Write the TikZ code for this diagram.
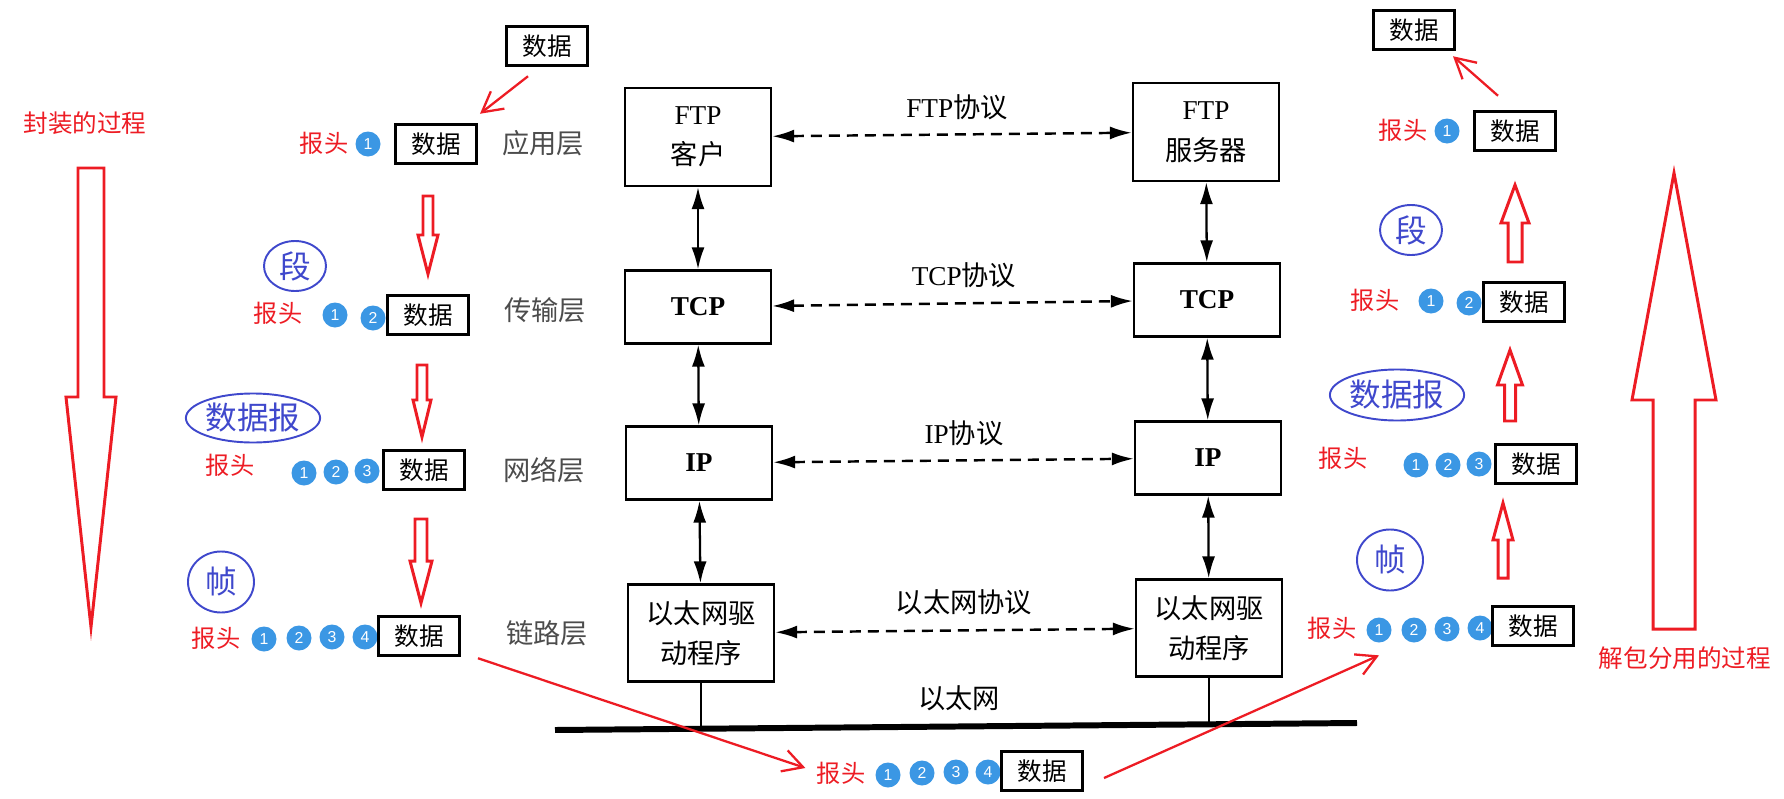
\documentclass[tikz,border=0pt]{standalone}
\usepackage{fontspec}
\setmainfont{Liberation Serif}
\setsansfont{Liberation Sans}
\newfontfamily\cjk{Noto Sans CJK SC}
\usetikzlibrary{arrows.meta,shapes.geometric}
\definecolor{paintred}{RGB}{237,28,36}
\definecolor{markblue}{RGB}{63,72,204}
\definecolor{dotblue}{RGB}{59,151,228}
\tikzset{
  layerbox/.style  = {draw, line width=1.3pt, minimum width=29.2mm, align=center,
                      font=\fontsize{15.5}{18}\selectfont},
  layername/.style = {text=black!70, font=\cjk\fontsize{15.5}{18}\selectfont},
  protolabel/.style= {font=\fontsize{15.5}{18}\selectfont},
  peer/.style      = {{Latex[length=4.4mm,width=2.6mm]}-{Latex[length=4.4mm,width=2.6mm]},
                      line width=1.4pt, dash pattern=on 2.2mm off 1.4mm},
  stack/.style     = {{Latex[length=4.4mm,width=2.6mm]}-{Latex[length=4.4mm,width=2.6mm]},
                      line width=1.3pt},
  bus/.style       = {line width=3.4pt},
  drop/.style      = {line width=0.8pt},
  databox/.style   = {draw, line width=1.7pt, minimum width=16.2mm, minimum height=7.9mm,
                      inner sep=0pt, font=\cjk\fontsize{14}{16}\selectfont},
  redlabel/.style  = {text=paintred, inner sep=0pt, font=\cjk\fontsize{13.8}{16}\selectfont},
  numdot/.style    = {circle, fill=dotblue, text=white, inner sep=0pt, minimum size=5mm,
                      font=\sffamily\fontsize{9}{10}\selectfont},
  unitmark/.style  = {ellipse, draw=markblue, line width=1.1pt, text=markblue, inner sep=0pt,
                      font=\cjk\fontsize{18}{20}\selectfont},
  redarrow/.style  = {-{Straight Barb[length=4mm,width=4.4mm]}, paintred, line width=1.3pt},
  hollow/.style    = {paintred, line width=1.7pt, line join=miter},
}

\begin{document}
\begin{tikzpicture}[x=0.2mm,y=-0.2mm]
  \useasboundingbox (0,0) rectangle (1784,799);

  % client stack
  \node[layerbox, minimum height=19.6mm] (ftpc) at (698,137) {FTP\\[5pt]{\cjk 客户}};
  \node[layerbox, minimum height=14.6mm] (tcpc) at (698,307) {\textbf{TCP}};
  \node[layerbox, minimum height=14.6mm] (ipc)  at (699,463) {\textbf{IP}};
  \node[layerbox, minimum height=19.4mm] (ethc) at (701,633) {{\cjk 以太网驱}\\[5pt]{\cjk 动程序}};

  % server stack
  \node[layerbox, minimum height=19.6mm] (ftps) at (1206,132) {FTP\\[5pt]{\cjk 服务器}};
  \node[layerbox, minimum height=14.6mm] (tcps) at (1207,300) {\textbf{TCP}};
  \node[layerbox, minimum height=14.6mm] (ips)  at (1208,458) {\textbf{IP}};
  \node[layerbox, minimum height=19.4mm] (eths) at (1209,628) {{\cjk 以太网驱}\\[5pt]{\cjk 动程序}};

  \draw[stack] (ftpc) -- (tcpc);
  \draw[stack] (tcpc) -- (ipc);
  \draw[stack] (ipc) -- (ethc);
  \draw[stack] (ftps) -- (tcps);
  \draw[stack] (tcps) -- (ips);
  \draw[stack] (ips) -- (eths);

  % peer protocols
  \draw[peer] (ftpc) -- (ftps);
  \draw[peer] (tcpc) -- (tcps);
  \draw[peer] (ipc) -- (ips);
  \draw[peer] (ethc) -- (eths);
  \node[protolabel] (ftpp) at (957,107) {FTP{\cjk 协议}};
  \node[protolabel] (tcpp) at (964,275) {TCP{\cjk 协议}};
  \node[protolabel] (ipp)  at (964,433) {IP{\cjk 协议}};
  \node[protolabel] (ethp) at (964,602) {\cjk 以太网协议};

  % ethernet cable
  \coordinate (busw) at (555,730);
  \coordinate (buse) at (1357,723);
  \draw[bus] (busw) -- (buse);
  \draw[drop] (ethc.south) -- (ethc.south |- busw);
  \draw[drop] (eths.south) -- (eths.south |- buse);
  \node[protolabel] (ethnet) at (959,698) {\cjk 以太网};

  % layer names
  \node[layername] (appl) at (543,143) {应用层};
  \node[layername] (tral) at (545,310) {传输层};
  \node[layername] (netl) at (544,470) {网络层};
  \node[layername] (lnkl) at (547,633) {链路层};

  % encapsulation (left)
  \node[databox] (ld0) at (547,46) {数据};
  \node[redlabel] (lh1) at (324,143) {报头};
  \node[numdot] (l1n1) at (368,144) {1};
  \node[databox] (ld1) at (436,144) {数据};

  \node[unitmark, minimum width=12.4mm, minimum height=10mm] (lseg) at (295,266) {段};
  \node[redlabel] (lh2) at (278,313) {报头};
  \foreach \n/\x/\y in {1/335/315,2/373/318}
    \node[numdot] (l2n\n) at (\x,\y) {\n};
  \node[databox] (ld2) at (428,315) {数据};

  \node[unitmark, minimum width=24.8mm, minimum height=9.8mm] (ldgram) at (253,418) {数据报};
  \node[redlabel] (lh3) at (230,465) {报头};
  \foreach \n/\x/\y in {1/304/473,2/336/472,3/367/471}
    \node[numdot] (l3n\n) at (\x,\y) {\n};
  \node[databox] (ld3) at (424,470) {数据};

  \node[unitmark, minimum width=13.2mm, minimum height=12.2mm] (lframe) at (221,582) {帧};
  \node[redlabel] (lh4) at (216,638) {报头};
  \foreach \n/\x/\y in {1/264/639,2/299/638,3/332/637,4/365/637}
    \node[numdot] (l4n\n) at (\x,\y) {\n};
  \node[databox] (ld4) at (419,636) {数据};

  \node[redlabel, font=\cjk\fontsize{14}{16}\selectfont] (encap) at (85,123) {封装的过程};

  % on the wire
  \node[redlabel] (bh) at (841,773) {报头};
  \foreach \n/\x/\y in {1/888/775,2/922/773,3/956/772,4/988/772}
    \node[numdot] (bn\n) at (\x,\y) {\n};
  \node[databox] (bd) at (1042,771) {数据};

  % demultiplexing (right)
  \node[databox] (rd0) at (1414,30) {数据};
  \node[redlabel] (rh1) at (1403,130) {报头};
  \node[numdot] (r1n1) at (1447,131) {1};
  \node[databox] (rd1) at (1515,131) {数据};

  \node[unitmark, minimum width=12.4mm, minimum height=10mm] (rseg) at (1411,230) {段};
  \node[redlabel] (rh2) at (1375,300) {报头};
  \foreach \n/\x/\y in {1/1431/301,2/1469/303}
    \node[numdot] (r2n\n) at (\x,\y) {\n};
  \node[databox] (rd2) at (1524,302) {数据};

  \node[unitmark, minimum width=25.4mm, minimum height=10.2mm] (rdgram) at (1397,395) {数据报};
  \node[redlabel] (rh3) at (1343,458) {报头};
  \foreach \n/\x/\y in {1/1416/465,2/1448/465,3/1479/464}
    \node[numdot] (r3n\n) at (\x,\y) {\n};
  \node[databox] (rd3) at (1536,464) {数据};

  \node[unitmark, minimum width=13.2mm, minimum height=12.2mm] (rframe) at (1390,560) {帧};
  \node[redlabel] (rh4) at (1332,628) {报头};
  \foreach \n/\x/\y in {1/1379/630,2/1414/630,3/1447/629,4/1480/628}
    \node[numdot] (r4n\n) at (\x,\y) {\n};
  \node[databox] (rd4) at (1533,626) {数据};

  \node[redlabel, font=\cjk\fontsize{14}{16}\selectfont] (demux) at (1685,658) {解包分用的过程};

  % red pointers
  \draw[redarrow] ([shift={(-19,9)}]ld0.south) -- ([shift={(2,-9)}]ld1.north east);
  \draw[redarrow] ([shift={(17,1)}]ld4.south east) -- ([shift={(-11,-5)}]bh.west);
  \draw[redarrow] ([shift={(20,7)}]bd.east) -- ([shift={(0,12.5)}]r4n1.south);
  \draw[redarrow] ([shift={(-17,-14)}]rd1.north) -- ([shift={(-3,5)}]rd0.south east);

  % hollow arrows: x / tail / head base / tip / half shaft / half head
  \foreach \x/\t/\h/\p/\s/\w in {428/196/235/274/5/10, 422/365/400/437/5/9,
                                 421/519/561/603/6/11, 91/168/397/627/13/25,
                                 1515/262/223/185/7/14, 1510/421/385/350/5.5/12.5,
                                 1503/578/540/503/5/10, 1674/629/400/173/21/42}
    \draw[hollow] (\x-\s,\t) -- (\x+\s,\t) -- (\x+\s,\h) -- (\x+\w,\h) -- (\x,\p)
                  -- (\x-\w,\h) -- (\x-\s,\h) -- cycle;
\end{tikzpicture}
\end{document}
